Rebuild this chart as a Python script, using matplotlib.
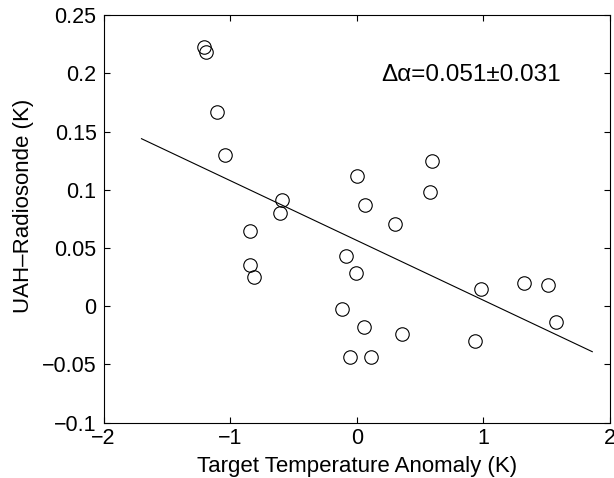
import matplotlib
matplotlib.use("Agg")
import matplotlib.pyplot as plt
import numpy as np

plt.rcParams['font.family'] = ['Liberation Sans', 'DejaVu Sans']

# data
x_vals = [-1.21, -1.19, -1.10, -1.04, -0.59, -0.61, -0.84, -0.847, -0.815,
          0.00, 0.067, 0.30, 0.595, 0.58,
          -0.084, -0.008, -0.12, 0.055, 0.36, -0.05, 0.114,
          0.98, 0.935, 1.32, 1.51, 1.57]
y_vals = [0.223, 0.2185, 0.167, 0.130, 0.0914, 0.080, 0.065, 0.0356, 0.0253,
          0.112, 0.0874, 0.0705, 0.1246, 0.0983,
          0.0428, 0.0288, -0.0019, -0.0179, -0.0239, -0.0436, -0.0436,
          0.0148, -0.0299, 0.0202, 0.0182, -0.0136]
fit_x = [-1.70, 1.86]
fit_slope = -0.0514
fit_intercept = 0.0566
x_ticks = [-2, -1, 0, 1, 2]
y_ticks = [-0.1, -0.05, 0, 0.05, 0.1, 0.15, 0.2, 0.25]
y_tick_labels = ['\u22120.1', '\u22120.05', '0', '0.05', '0.1', '0.15', '0.2', '0.25']
x_tick_labels = ['\u22122', '\u22121', '0', '1', '2']

fig = plt.figure(figsize=(6.14, 4.78), dpi=100)
ax = fig.add_axes([0.1686, 0.1157, 0.9935 - 0.1686, 0.968 - 0.1157])

ax.plot(x_vals, y_vals, 'o', markerfacecolor='none', markeredgecolor='black',
        markersize=9.7, markeredgewidth=0.8, linestyle='none')
fx = np.array(fit_x)
ax.plot(fx, fit_intercept + fit_slope * fx, color='black', linewidth=0.8)

ax.set_xlim(-2, 2)
ax.set_ylim(-0.1, 0.25)
ax.set_xticks(x_ticks)
ax.set_xticklabels(x_tick_labels)
ax.set_yticks(y_ticks)
ax.set_yticklabels(y_tick_labels)
ax.tick_params(direction='in', length=4, width=0.8, top=True, right=True,
               labelsize=15.5)
ax.tick_params(axis='x', pad=3.5)
ax.tick_params(axis='y', pad=5)
for s in ax.spines.values():
    s.set_linewidth(0.8)

ax.set_xlabel('Target Temperature Anomaly (K)', fontsize=16, labelpad=5.5)
ax.set_ylabel('UAH\u2013Radiosonde (K)', fontsize=16)
ax.yaxis.set_label_coords(-0.138, 0.532)

ax.text(0.19, 0.199, '\u0394\u03b1=0.051\u00b10.031', fontsize=17.5,
        ha='left', va='center')

fig.savefig('out.png', dpi=100)
